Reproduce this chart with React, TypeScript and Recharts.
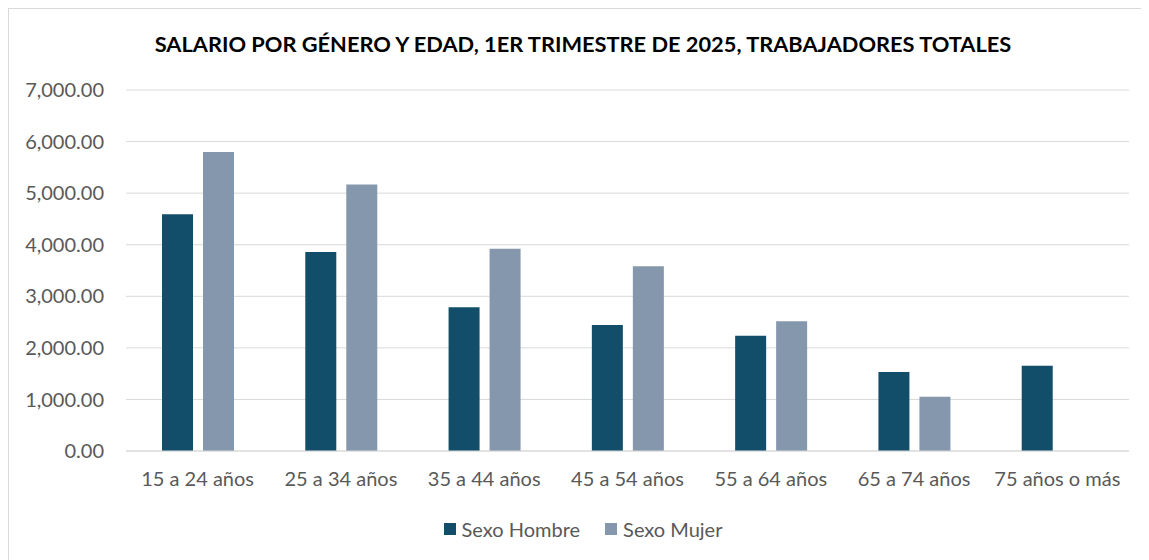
import React from 'react'
import {
  BarChart,
  Bar,
  XAxis,
  YAxis,
  CartesianGrid,
  Legend,
} from 'recharts'

const categories = [
  '15 a 24 años',
  '25 a 34 años',
  '35 a 44 años',
  '45 a 54 años',
  '55 a 64 años',
  '65 a 74 años',
  '75 años o más',
]
const hombre = [4590, 3860, 2785, 2445, 2235, 1530, 1655]
const mujer: (number | null)[] = [5800, 5170, 3920, 3580, 2515, 1050, null]
const yTicks = [0, 1000, 2000, 3000, 4000, 5000, 6000, 7000]

const title =
  'SALARIO POR GÉNERO Y EDAD, 1ER TRIMESTRE DE 2025, TRABAJADORES TOTALES'

const data = categories.map((name, i) => ({
  name,
  hombre: hombre[i],
  mujer: mujer[i],
}))

const FONT = 'Lato, "Open Sans", sans-serif'
const TEXT = '#595959'

const fmt = (v: number) =>
  v.toLocaleString('en-US', { minimumFractionDigits: 2, maximumFractionDigits: 2 })

const renderLegend = (props: any) => {
  const { payload } = props
  return (
    <div
      style={{
        display: 'flex',
        justifyContent: 'center',
        alignItems: 'center',
        height: 30,
        paddingLeft: 28,
        fontFamily: FONT,
        fontSize: 20,
        color: TEXT,
      }}
    >
      {payload.map((p: any, i: number) => (
        <div
          key={p.value}
          style={{ display: 'flex', alignItems: 'center', marginLeft: i ? 25 : 0 }}
        >
          <span
            style={{ width: 12, height: 12, background: p.color, marginRight: 6 }}
          />
          <span>{p.value}</span>
        </div>
      ))}
    </div>
  )
}

export default function App() {
  return (
    <div
      style={{
        position: 'relative',
        width: 1150,
        height: 560,
        border: '1px solid #d9d9d9',
        background: '#fff',
        fontFamily: FONT,
      }}
    >
      <div
        style={{
          position: 'absolute',
          top: 21,
          left: 0,
          width: 1148,
          textAlign: 'center',
          fontWeight: 700,
          fontSize: 21.8,
          color: '#000',
        }}
      >
        {title}
      </div>
      <BarChart
        width={1141}
        height={552}
        data={data}
        margin={{ top: 81, right: 21, left: 0, bottom: 17 }}
        barSize={31}
        barGap={10}
      >
        <CartesianGrid vertical={false} stroke="#d9d9d9" />
        <XAxis
          dataKey="name"
          height={63}
          tickSize={0}
          tickMargin={21}
          axisLine={{ stroke: '#d9d9d9' }}
          tick={{ fill: TEXT, fontSize: 20, fontFamily: FONT }}
        />
        <YAxis
          width={117}
          domain={[0, 7000]}
          ticks={yTicks}
          tickFormatter={fmt}
          axisLine={false}
          tickLine={false}
          tickSize={0}
          tickMargin={22}
          tick={{ fill: TEXT, fontSize: 20, fontFamily: FONT }}
        />
        <Legend verticalAlign="bottom" content={renderLegend} />
        <Bar
          dataKey="hombre"
          name="Sexo Hombre"
          fill="#124e6a"
          isAnimationActive={false}
        />
        <Bar
          dataKey="mujer"
          name="Sexo Mujer"
          fill="#8497ac"
          isAnimationActive={false}
        />
      </BarChart>
    </div>
  )
}
